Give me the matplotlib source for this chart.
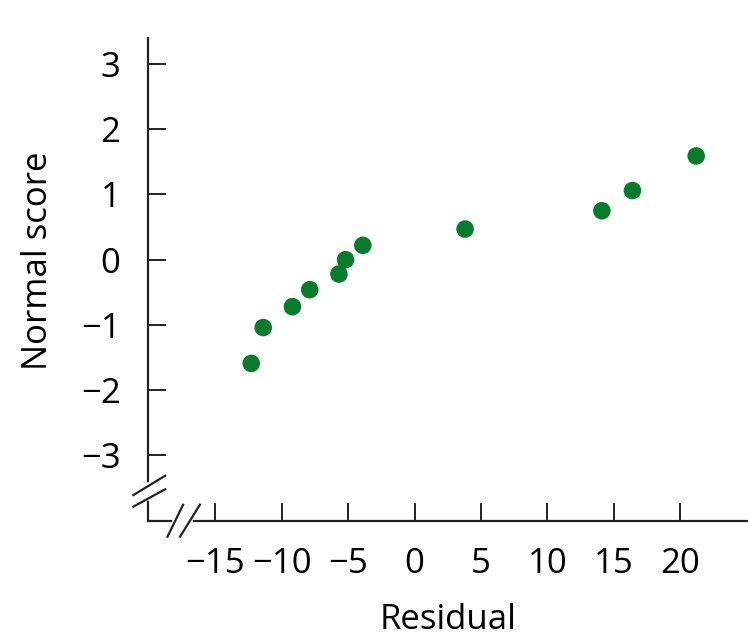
import numpy as np
import matplotlib
matplotlib.use("Agg")
import matplotlib.pyplot as plt

# residuals vs normal scores
residual = [-12.3, -11.4, -9.2, -7.9, -5.7, -5.2, -3.9, 3.8, 14.1, 16.4, 21.2]
normal_score = [-1.59, -1.04, -0.72, -0.46, -0.22, 0.0, 0.22, 0.47, 0.75, 1.06, 1.59]
xticks = [-15, -10, -5, 0, 5, 10, 15, 20]
yticks = [-3, -2, -1, 0, 1, 2, 3]

plt.rcParams['font.family'] = ['Open Sans', 'DejaVu Sans']

fig = plt.figure(figsize=(7.48, 6.42), dpi=100)
ax = fig.add_axes([0.1983, 0.189, 0.8017, 0.752])

ax.scatter(residual, normal_score, s=160, color='#0a7a2c', edgecolors='none', zorder=3)

ax.set_xlim(-20.05, 25.1)
ax.set_ylim(-4.0, 3.4)
ax.set_xticks(xticks)
ax.set_yticks(yticks)
ax.set_xticklabels([str(t).replace('-', '\u2212') for t in xticks])
ax.set_yticklabels([str(t).replace('-', '\u2212') for t in yticks])

for s in ['top', 'right']:
    ax.spines[s].set_visible(False)
for s in ['left', 'bottom']:
    ax.spines[s].set_linewidth(1.6)
    ax.spines[s].set_color('#222222')

ax.tick_params(direction='in', length=13, width=1.4, color='#222222', labelsize=25)
ax.tick_params(axis='x', pad=19)
ax.tick_params(axis='y', pad=20)

ax.set_xlabel('Residual', fontsize=25, labelpad=16)
ax.set_ylabel('Normal score', fontsize=25)
ax.yaxis.set_label_coords(-0.155, 0.538)

# axis break marks
kw = dict(transform=ax.transAxes, clip_on=False, color='#222222', lw=1.6, zorder=5)
# gaps in the axes
ax.plot([0, 0], [0.047, 0.074], transform=ax.transAxes, clip_on=False, color='white', lw=4, zorder=4)
ax.plot([0.045, 0.069], [0, 0], transform=ax.transAxes, clip_on=False, color='white', lw=4, zorder=4)
ax.plot([-0.025, 0.028], [0.053, 0.093], **kw)
ax.plot([-0.025, 0.028], [0.029, 0.065], **kw)
ax.plot([0.032, 0.058], [-0.033, 0.033], **kw)
ax.plot([0.053, 0.086], [-0.033, 0.033], **kw)

fig.savefig('out.png', dpi=100)
